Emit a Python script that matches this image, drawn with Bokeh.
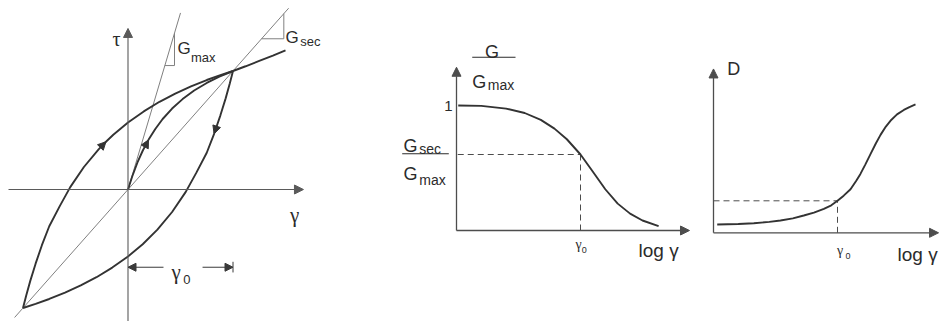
from bokeh.plotting import figure
from bokeh.layouts import row
from bokeh.models import Range1d, Label, Arrow, NormalHead
from bokeh.embed import file_html
from bokeh.resources import INLINE

# ---------------- data ----------------
# Panel 1: hysteresis loop, strain gamma/gamma0 and stress tau/tau0
gamma0 = 1.0
tau0 = 1.0
up_gamma = [-1.0, -0.97, -0.93, -0.88, -0.82, -0.75, -0.65, -0.55, -0.42, -0.28, -0.21,
            -0.14, 0.0, 0.15, 0.3, 0.45, 0.6, 0.75, 0.88, 1.0, 1.12, 1.25, 1.38, 1.5]
up_tau = [-1.0, -0.896, -0.769, -0.626, -0.47, -0.31, -0.14, 0.02, 0.19, 0.339, 0.403,
          0.462, 0.565, 0.659, 0.74, 0.809, 0.87, 0.924, 0.965, 1.0, 1.04, 1.085, 1.13, 1.175]
down_gamma = [1.0, 0.97, 0.93, 0.88, 0.82, 0.75, 0.65, 0.55, 0.42, 0.28, 0.14, 0.0,
              -0.15, -0.3, -0.45, -0.6, -0.75, -0.88, -1.0]
down_tau = [1.0, 0.896, 0.769, 0.626, 0.47, 0.31, 0.14, -0.02, -0.19, -0.339, -0.462, -0.565,
            -0.659, -0.74, -0.809, -0.87, -0.924, -0.965, -1.0]
bb_gamma = [0.0, 0.04, 0.09, 0.14, 0.195, 0.26, 0.33, 0.42, 0.52, 0.63, 0.75, 0.87, 1.0]
bb_tau = [0.0, 0.11, 0.228, 0.327, 0.419, 0.511, 0.595, 0.683, 0.763, 0.835, 0.899, 0.952, 1.0]
sec_gamma = [-1.08, 1.53]
sec_tau = [-1.08, 1.53]
gmax_gamma = [0.0, 0.5]
gmax_tau = [0.0, 1.49]
gmax_tri_gamma = [0.351, 0.443, 0.443]
gmax_tri_tau = [1.046, 1.046, 1.32]
gsec_tri_gamma = [1.272, 1.484, 1.484]
gsec_tri_tau = [1.272, 1.272, 1.484]

# Panel 2: G/Gmax against log gamma (gamma0 at 1.0)
gg_logx = [0.014, 0.2, 0.4, 0.55, 0.68, 0.79, 0.89, 1.0, 1.1, 1.2, 1.3, 1.4, 1.5, 1.63]
gg_ratio = [1.0, 0.997, 0.975, 0.94, 0.885, 0.815, 0.73, 0.608, 0.47, 0.33, 0.215, 0.135, 0.08, 0.035]
gsec_ratio = 0.608

# Panel 3: damping D (%) against log gamma
d_logx = [0.03, 0.2, 0.325, 0.45, 0.54, 0.64, 0.728, 0.81, 0.89, 0.95, 1.0, 1.05, 1.105,
          1.15, 1.185, 1.225, 1.266, 1.31, 1.347, 1.39, 1.427, 1.48, 1.535, 1.58, 1.629]
d_pct = [1.3, 1.38, 1.5, 1.7, 1.92, 2.25, 2.7, 3.15, 3.75, 4.3, 5.0, 5.8, 6.8,
         8.1, 9.2, 10.7, 12.3, 14.0, 15.3, 16.6, 17.5, 18.5, 19.2, 19.65, 20.05]
d_at_gamma0 = 5.0

# ---------------- styles ----------------
CURVE = "#333333"
AXIS = "#4d4d4d"
THIN = "#808080"
TEXT = "#2b2b2b"
SANS = "Liberation Sans"
SERIF = "Liberation Serif"
TOP = 0
H = 321


def make_fig(width, left, ox, oy, sx, sy):
    p = figure(width=width, height=H,
               x_range=Range1d((left - ox) / sx, (left + width - ox) / sx),
               y_range=Range1d((oy - (TOP + H)) / sy, (oy - TOP) / sy),
               x_axis_type=None, y_axis_type=None, toolbar_location=None,
               output_backend="svg", min_border=0, outline_line_color=None,
               background_fill_color="white", border_fill_color="white")
    p.grid.visible = False
    return p


def lab(p, x, y, text, size, font=SANS, align="left", baseline="alphabetic"):
    p.add_layout(Label(x=x, y=y, text=text, text_font=font, text_font_size=f"{size}px",
                       text_align=align, text_baseline=baseline, text_color=TEXT))


def arrow(p, x0, y0, x1, y1, size=9, color=AXIS, width=1.3, shaft=True):
    p.add_layout(Arrow(end=NormalHead(size=size, fill_color=color, line_color=color, line_width=1),
                       x_start=x0, y_start=y0, x_end=x1, y_end=y1,
                       line_color=color, line_width=width, line_alpha=1.0 if shaft else 0.0))


# ---------------- panel 1 ----------------
p1 = make_fig(380, 0, 127.5, 189, 105, 118.5)
p1.line(sec_gamma, sec_tau, line_color=THIN, line_width=1.0)
p1.line(gmax_gamma, gmax_tau, line_color=THIN, line_width=1.0)
p1.line(gmax_tri_gamma, gmax_tri_tau, line_color=THIN, line_width=1.0)
p1.line(gsec_tri_gamma, gsec_tri_tau, line_color=THIN, line_width=1.0)
arrow(p1, -1.138, 0, 1.671, 0, size=9, width=1.1, color="#5a5a5a")
arrow(p1, 0, p1.y_range.start, 0, 1.359, size=9, width=1.1, color="#5a5a5a")
p1.line(up_gamma, up_tau, line_color=CURVE, line_width=1.9)
p1.line(down_gamma, down_tau, line_color=CURVE, line_width=1.9)
p1.line(bb_gamma, bb_tau, line_color=CURVE, line_width=1.9)
# direction arrowheads on the curves
i = up_gamma.index(-0.21)
arrow(p1, up_gamma[i - 1], up_tau[i - 1], up_gamma[i], up_tau[i], size=8, color=CURVE, shaft=False)
i = bb_gamma.index(0.195)
arrow(p1, bb_gamma[i - 1], bb_tau[i - 1], bb_gamma[i], bb_tau[i], size=8, color=CURVE, shaft=False)
i = down_gamma.index(0.82)
arrow(p1, down_gamma[i - 1], down_tau[i - 1], down_gamma[i], down_tau[i], size=8, color=CURVE, shaft=False)
# gamma0 dimension
dim_y = -0.656
arrow(p1, 0.338, dim_y, 0.0, dim_y, size=8, color="#3a3a3a", width=1.0)
arrow(p1, 0.71, dim_y, gamma0, dim_y, size=8, color="#3a3a3a", width=1.0)
p1.line([gamma0, gamma0], [-0.61, -0.70], line_color="#3a3a3a", line_width=1.0)
lab(p1, 0.415, -0.70, "γ", 21, font=SERIF)
lab(p1, 0.525, -0.76, "0", 13)
# labels
lab(p1, -0.11, 1.274, "τ", 20, font=SERIF, align="center")
lab(p1, 1.586, -0.217, "γ", 21, font=SERIF, align="center")
lab(p1, 0.471, 1.19, "G", 17)
lab(p1, 0.6, 1.116, "max", 13)
lab(p1, 1.5, 1.283, "G", 17)
lab(p1, 1.64, 1.249, "sec", 13)

# ---------------- panel 2 ----------------
p2 = make_fig(315, 380, 456, 230, 124, 125)
p2.line([0.01, 1.0], [gsec_ratio, gsec_ratio], line_color=AXIS, line_width=1.0, line_dash="6 4")
p2.line([1.0, 1.0], [0, gsec_ratio], line_color=AXIS, line_width=1.0, line_dash="6 4")
arrow(p2, 0, 0, 0, 1.306, size=9)
arrow(p2, 0, 0, 1.879, 0, size=9)
p2.line(gg_logx, gg_ratio, line_color=CURVE, line_width=1.9)
lab(p2, -0.032, 1.0, "1", 15, align="right", baseline="middle")
lab(p2, 0.286, 1.432, "G", 18, align="center")
p2.line([0.127, 0.476], [1.386, 1.386], line_color=TEXT, line_width=1.0)
lab(p2, 0.127, 1.186, "G", 18)
lab(p2, 0.252, 1.168, "max", 14)
lab(p2, -0.427, 0.68, "G", 18)
lab(p2, -0.3, 0.656, "sec", 14)
p2.line([-0.438, -0.062], [0.614, 0.614], line_color=TEXT, line_width=1.0)
lab(p2, -0.427, 0.456, "G", 18)
lab(p2, -0.3, 0.408, "max", 14)
lab(p2, 0.96, -0.112, "γ", 14, font=SERIF)
lab(p2, 1.01, -0.152, "0", 9)
lab(p2, 1.468, -0.16, "log γ", 19)

# ---------------- panel 3 ----------------
p3 = make_fig(244, 695, 713, 232.3, 124, 6.4)
p3.line([0, 1.0], [d_at_gamma0, d_at_gamma0], line_color=AXIS, line_width=1.0, line_dash="6 4")
p3.line([1.0, 1.0], [0, d_at_gamma0], line_color=AXIS, line_width=1.0, line_dash="6 4")
arrow(p3, 0, 0, 0, 25.6, size=9)
arrow(p3, 0, 0, 1.815, 0, size=9)
p3.line(d_logx, d_pct, line_color=CURVE, line_width=1.9)
lab(p3, 0.11, 25.67, "D", 18)
lab(p3, 0.995, -2.77, "γ", 14, font=SERIF)
lab(p3, 1.065, -3.55, "0", 9)
lab(p3, 1.484, -3.39, "log γ", 19)

layout = row(p1, p2, p3)
open("out.html", "w").write(file_html(layout, INLINE))
